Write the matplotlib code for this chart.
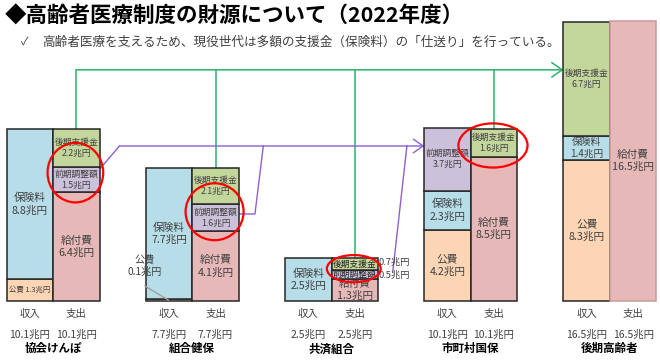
import matplotlib.pyplot as plt
from matplotlib.patches import Ellipse

plt.rcParams['font.family'] = ['Noto Sans CJK JP', 'DejaVu Sans']

groups = ['協会けんぽ', '組合健保', '共済組合', '市町村国保', '後期高齢者']
total_in = [10.1, 7.7, 2.5, 10.1, 16.5]
total_out = [10.1, 7.7, 2.5, 10.1, 16.5]

# 収入 (bottom -> top), 兆円
in_kohi = [1.3, 0.1, 0.0, 4.2, 8.3]
in_hoken = [8.8, 7.7, 2.5, 2.3, 1.4]
in_zenki = [0.0, 0.0, 0.0, 3.7, 0.0]
in_koki = [0.0, 0.0, 0.0, 0.0, 6.7]
# 支出 (bottom -> top), 兆円
out_kyufu = [6.4, 4.1, 1.3, 8.5, 16.5]
out_zenki = [1.5, 1.6, 0.5, 0.0, 0.0]
out_koki = [2.2, 2.1, 0.7, 1.6, 0.0]

names = {'kohi': '公費', 'hoken': '保険料', 'kyufu': '給付費',
         'zenki': '前期調整額', 'koki': '後期支援金'}
colors = {'kohi': '#fcd5b5', 'hoken': '#b7dee8', 'kyufu': '#e6b9b8',
          'zenki': '#ccc1da', 'koki': '#c3d69b'}
TXT = '#404040'
GREEN = '#2bb36a'
PURPLE = '#8d5fd3'

fig = plt.figure(figsize=(6.6, 3.62), dpi=100)
ax = fig.add_axes([0, 0, 1, 1])
ax.set_xlim(-0.645, 13.58)
ax.set_ylim(-3.59, 17.71)
ax.axis('off')


def stack(x, parts, edge='#262626'):
    bottom = 0.0
    segs = {}
    for key, v in parts:
        if v > 0:
            ax.bar(x, v, 1.0, bottom=bottom, color=colors[key],
                   edgecolor=edge, linewidth=1.1, zorder=2)
            segs[key] = (bottom, v)
        bottom += v
    return segs, bottom


def label(x, seg, key, fs=None):
    b, v = seg
    if fs is None:
        fs = 6.3 if key in ('zenki', 'koki') else 7.7
    ax.text(x, b + v / 2, '%s\n%.1f兆円' % (names[key], v), ha='center',
            va='center', fontsize=fs, color=TXT, linespacing=1.25, zorder=3)


tops_out = []
for i in range(len(groups)):
    xi, xo = 3 * i, 3 * i + 1
    seg_in, top_in = stack(xi, [('kohi', in_kohi[i]), ('hoken', in_hoken[i]),
                                ('zenki', in_zenki[i]), ('koki', in_koki[i])])
    edge_out = '#c99a99' if i == 4 else '#262626'
    seg_out, top_out = stack(xo, [('kyufu', out_kyufu[i]), ('zenki', out_zenki[i]),
                                  ('koki', out_koki[i])], edge=edge_out)
    tops_out.append(top_out)

    for key, seg in seg_in.items():
        if key == 'kohi' and i == 0:
            ax.text(xi, seg[0] + seg[1] / 2, '公費 %.1f兆円' % seg[1], ha='center',
                    va='center', fontsize=5.3, color=TXT, zorder=3)
        elif key == 'kohi' and i == 1:
            ax.text(xi - 0.53, 2.09, '公費\n%.1f兆円' % seg[1], ha='center',
                    va='center', fontsize=7.3, color=TXT, linespacing=1.25)
            ax.plot([xi - 0.52, xi - 0.02], [0.88, 0.06], color='#a0a0a0', lw=1.0)
        elif key == 'hoken' and i == 4:
            label(xi, seg, key, fs=7)
        else:
            label(xi, seg, key)

    for key, seg in seg_out.items():
        if i == 2 and key in ('zenki', 'koki'):
            ax.text(xo, seg[0] + seg[1] / 2, names[key], ha='center', va='center',
                    fontsize=6.3, color='#202020', zorder=3)
            ax.text(xo + 0.52, seg[0] + seg[1] / 2 + (0.12 if key == 'koki' else -0.05),
                    '%.1f兆円' % seg[1], ha='left', va='center', fontsize=6.7,
                    color=TXT, zorder=3)
        else:
            label(xo, seg, key)

    ax.text(xi, -0.76, '収入', ha='center', va='center', fontsize=7.5, color=TXT)
    ax.text(xo, -0.76, '支出', ha='center', va='center', fontsize=7.5, color=TXT)
    ax.text(xi, -2.0, '%.1f兆円' % total_in[i], ha='center', va='center',
            fontsize=7.5, color=TXT)
    ax.text(xo, -2.0, '%.1f兆円' % total_out[i], ha='center', va='center',
            fontsize=7.5, color=TXT)
    ax.text(xi + 0.5, -2.82, groups[i], ha='center', va='center', fontsize=8.3,
            fontweight='bold', color='black')

# red circles around the support payments (cy, width, height)
ellipses = [(7.55, 1.2, 3.5), (5.25, 1.25, 3.35), (1.9, 1.16, 1.6), (9.15, 1.49, 2.6)]
for i, (cy, w, h) in enumerate(ellipses):
    ax.add_patch(Ellipse((3 * i + 1 - 0.02, cy), w, h, fill=False,
                         edgecolor='red', lw=1.6, zorder=4))

# green: 後期支援金 -> 後期高齢者
y_g = 13.6
for i in range(4):
    ax.plot([3 * i + 1, 3 * i + 1], [tops_out[i], y_g], color=GREEN, lw=1.1, zorder=1)
ax.annotate('', xy=(11.5, y_g), xytext=(1, y_g),
            arrowprops=dict(arrowstyle='->,head_length=0.5,head_width=0.35',
                            color=GREEN, lw=1.1, mutation_scale=15,
                            shrinkA=0, shrinkB=0), zorder=1)

# purple: 前期調整額 -> 市町村国保
y_p = 9.12
ax.plot([1.5, 1.93], [7.75, y_p], color=PURPLE, lw=1.0, zorder=1)
ax.plot([4.5, 4.85, 5.03], [5.12, 5.12, y_p], color=PURPLE, lw=1.0, zorder=1)
ax.plot([8.125, 7.82], [y_p, 1.7], color=PURPLE, lw=1.0, zorder=1)
ax.annotate('', xy=(8.5, y_p), xytext=(1.93, y_p),
            arrowprops=dict(arrowstyle='->,head_length=0.5,head_width=0.35',
                            color=PURPLE, lw=1.0, mutation_scale=14,
                            shrinkA=0, shrinkB=0), zorder=1)

fig.text(5 / 660, 1 - 16.5 / 362, '◆高齢者医療制度の財源について（2022年度）',
         fontsize=15.5, fontweight='bold', va='center', color='black')
fig.text(21 / 660, 1 - 42 / 362, '✓', fontsize=8, va='center', color=TXT)
fig.text(42 / 660, 1 - 42 / 362,
         '高齢者医療を支えるため、現役世代は多額の支援金（保険料）の「仕送り」を行っている。',
         fontsize=9.1, va='center', color=TXT)

fig.savefig('out.png', dpi=100)
